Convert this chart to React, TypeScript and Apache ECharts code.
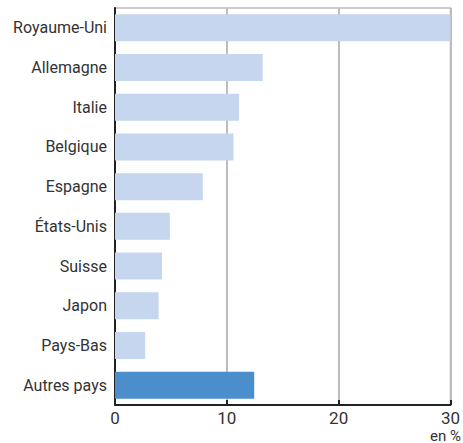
import React, { useEffect, useRef } from "react";
import * as echarts from "echarts";

const categories = ["Royaume-Uni", "Allemagne", "Italie", "Belgique", "Espagne", "États-Unis", "Suisse", "Japon", "Pays-Bas", "Autres pays"];
const values = [30, 13.2, 11.1, 10.6, 7.85, 4.9, 4.2, 3.9, 2.7, 12.45];
const highlight = ["Autres pays"];
const xTicks = [0, 10, 20, 30];
const unitLabel = "en %";

const FONT = "Roboto, sans-serif";

export default function App() {
  const ref = useRef<HTMLDivElement>(null);
  useEffect(() => {
    if (!ref.current) return;
    const chart = echarts.init(ref.current, undefined, { renderer: "svg" });
    chart.setOption({
      animation: false,
      backgroundColor: "#ffffff",
      textStyle: { fontFamily: FONT },
      grid: {
        left: 115,
        right: 11,
        top: 8,
        bottom: 38,
        show: true,
        borderColor: "#bdbdbd",
        borderWidth: 1.5,
        containLabel: false,
      },
      xAxis: {
        type: "value",
        min: xTicks[0],
        max: xTicks[xTicks.length - 1],
        interval: 10,
        axisLine: { show: true, lineStyle: { color: "#222", width: 2 } },
        axisTick: { show: true, inside: true, length: 5, lineStyle: { color: "#222", width: 2 } },
        axisLabel: { color: "#333", fontSize: 17, lineHeight: 17, fontFamily: FONT, margin: 4 },
        splitLine: { show: true, lineStyle: { color: "#bdbdbd", width: 2 } },
      },
      yAxis: {
        type: "category",
        data: categories,
        inverse: true,
        axisLine: { show: true, lineStyle: { color: "#222", width: 2 } },
        axisTick: { show: false },
        axisLabel: { color: "#333", fontSize: 16, fontFamily: FONT, margin: 8 },
        splitLine: { show: false },
      },
      series: [
        {
          type: "bar",
          data: values.map((v, i) => ({
            value: v,
            itemStyle: { color: highlight.includes(categories[i]) ? "#4a8ecb" : "#c5d6ee" },
          })),
          barCategoryGap: "32%",
        },
      ],
      graphic: [
        {
          type: "text",
          right: 2,
          top: 428,
          style: { text: unitLabel, fill: "#333", fontSize: 15, fontFamily: FONT, lineHeight: 15, textAlign: "right" },
        },
      ],
    });
    return () => chart.dispose();
  }, []);
  return <div ref={ref} style={{ position: "fixed", left: 0, top: 0, width: 463, height: 443 }} />;
}
